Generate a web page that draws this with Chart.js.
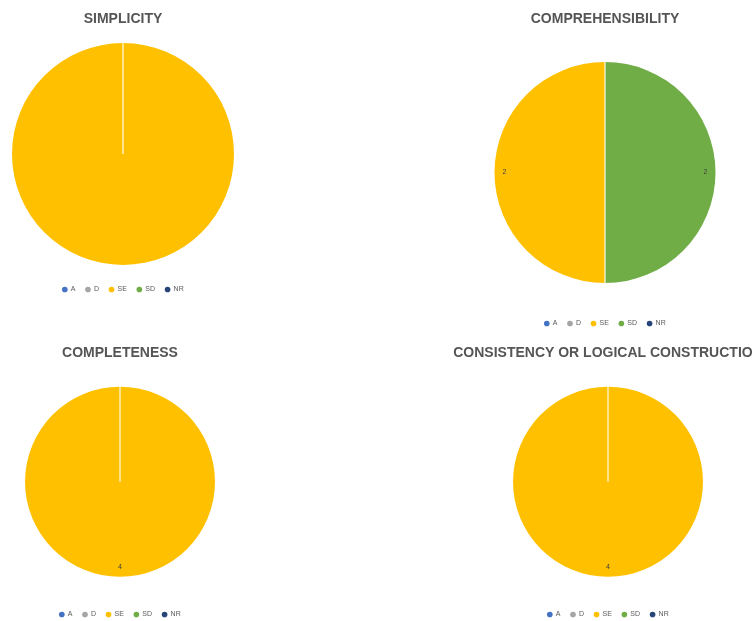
<!DOCTYPE html>
<html>
<head>
<meta charset="utf-8">
<script src="https://cdn.jsdelivr.net/npm/chart.js@4.4.1/dist/chart.umd.min.js"></script>
<style>
    html, body { margin: 0; padding: 0; background: #fff; overflow: hidden; }
    body { width: 752px; height: 621px; position: relative; }
    canvas { position: absolute; }
</style>
</head>
<body>
<canvas id="simplicity"></canvas>
<canvas id="comprehensibility"></canvas>
<canvas id="completeness"></canvas>
<canvas id="consistency"></canvas>
<script>
// answer categories, same order in every pie
const categories = ['A', 'D', 'SE', 'SD', 'NR'];
const sliceColors = ['#4472C4', '#A5A5A5', '#FFC000', '#70AD47', '#264478'];

// counts per category
const simplicity        = [0, 0, 4, 0, 0];
const comprehensibility = [0, 0, 2, 2, 0];
const completeness      = [0, 0, 4, 0, 0];
const consistency       = [0, 0, 4, 0, 0];

// thin separator from centre to the start of each slice
const sliceLines = {
    id: 'sliceLines',
    afterDatasetsDraw(chart){
        const ctx = chart.ctx;
        const meta = chart.getDatasetMeta(0);
        ctx.save();
        ctx.strokeStyle = 'rgba(255,255,255,0.75)';
        ctx.lineWidth = 1.5;
        meta.data.forEach(arc=>{
            const {x, y, startAngle, outerRadius, circumference} = arc.getProps(['x','y','startAngle','outerRadius','circumference'], true);
            if (!circumference) return;
            ctx.beginPath();
            ctx.moveTo(x, y);
            ctx.lineTo(x + Math.cos(startAngle) * outerRadius, y + Math.sin(startAngle) * outerRadius);
            ctx.stroke();
        });
        ctx.restore();
    }
};

// value labels near the outer edge of each slice
const sliceValues = {
    id: 'sliceValues',
    afterDatasetsDraw(chart, args, opts){
        if (!opts.display) return;
        const ctx = chart.ctx;
        const values = chart.data.datasets[0].data;
        ctx.save();
        ctx.font = '7px "Liberation Sans"';
        ctx.fillStyle = '#404040';
        ctx.textAlign = 'center';
        ctx.textBaseline = 'middle';
        chart.getDatasetMeta(0).data.forEach((arc, i)=>{
            if (!values[i]) return;
            const {x, y, startAngle, endAngle, outerRadius} = arc.getProps(['x','y','startAngle','endAngle','outerRadius'], true);
            const mid = (startAngle + endAngle) / 2;
            const r = outerRadius - 10;
            ctx.fillText(String(values[i]), x + Math.cos(mid) * r, y + Math.sin(mid) * r);
        });
        ctx.restore();
    }
};

function makePie(id, title, values, box){
    const canvas = document.getElementById(id);
    canvas.width = box.w;
    canvas.height = box.h;
    canvas.style.left = box.left + 'px';
    canvas.style.top = box.top + 'px';

    return new Chart(canvas.getContext('2d'), {
        type: 'pie',
        data: {
            labels: categories,
            datasets: [{
                data: values,
                backgroundColor: sliceColors,
                borderWidth: 0,
                radius: box.radius
            }]
        },
        options: {
            responsive: false,
            animation: false,
            rotation: box.rotation || 0,
            layout: { padding: { left: box.side, right: box.side, top: 0, bottom: 0 } },
            plugins: {
                title: {
                    display: true,
                    text: title,
                    color: '#555555',
                    font: { family: '"Liberation Sans"', size: 14, weight: 'bold' },
                    padding: { top: box.titleTop, bottom: box.titleBottom }
                },
                legend: {
                    position: 'bottom',
                    labels: {
                        usePointStyle: true,
                        pointStyle: 'circle',
                        boxWidth: 5,
                        boxHeight: 4,
                        padding: 10,
                        color: '#595959',
                        font: { family: '"Liberation Sans"', size: 7 }
                    }
                },
                tooltip: { enabled: false },
                sliceValues: { display: box.values }
            }
        },
        plugins: [sliceLines, sliceValues]
    });
}

makePie('simplicity', 'SIMPLICITY', simplicity,
    {left: 0, top: 0, w: 246, h: 303, side: 12, titleTop: 10.6, titleBottom: 4.6, values: false});
makePie('comprehensibility', 'COMPREHENSIBILITY', comprehensibility,
    {left: 475, top: 0, w: 260, h: 337, side: 19.5, titleTop: 10.6, titleBottom: 7.6, values: true, rotation: 180});
makePie('completeness', 'COMPLETENESS', completeness,
    {left: 0, top: 330, w: 240, h: 298, side: 25, titleTop: 14.6, titleBottom: 1.1, values: true});
makePie('consistency', 'CONSISTENCY OR LOGICAL CONSTRUCTION', consistency,
    {left: 408, top: 330, w: 400, h: 298, side: 0, radius: 95, titleTop: 14.6, titleBottom: 1.1, values: true});
</script>
</body>
</html>
